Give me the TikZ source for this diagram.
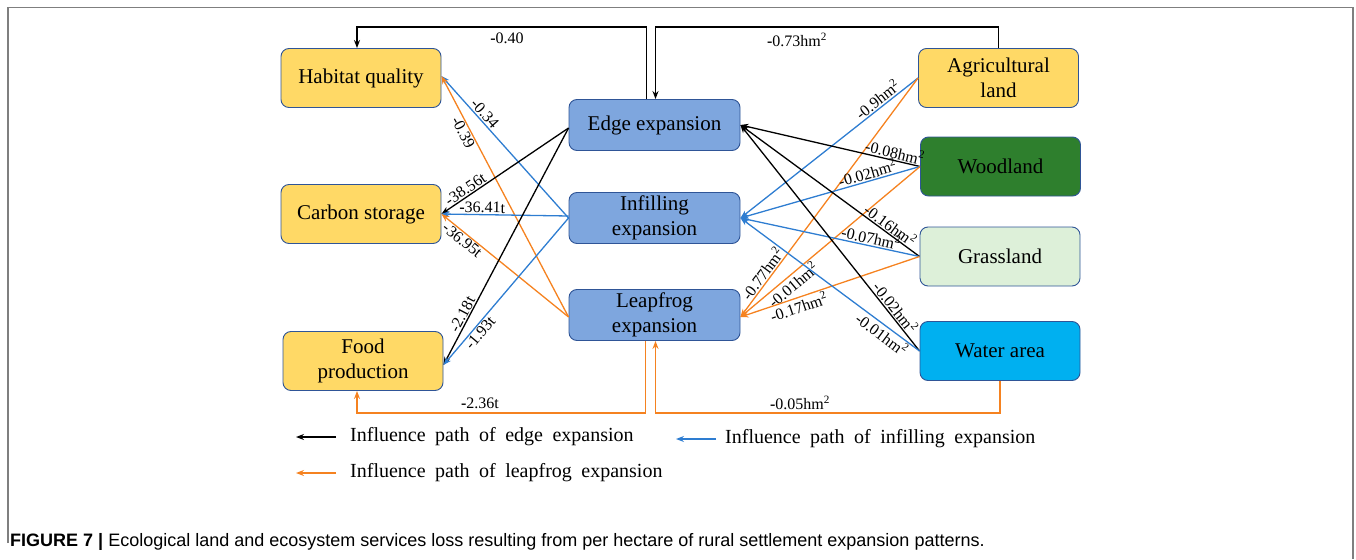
\documentclass[tikz,border=0pt]{standalone}
\usepackage{fontspec}
\setmainfont{Liberation Serif}
\newfontfamily\capfont{Liberation Sans}
\newfontfamily\legfont[WordSpace=1.9]{Liberation Serif}
\usetikzlibrary{arrows.meta,calc}
\definecolor{yel}{HTML}{FFD966}
\definecolor{bbox}{HTML}{7EA6DE}
\definecolor{wood}{HTML}{2E7F2D}
\definecolor{grass}{HTML}{DDF0D9}
\definecolor{water}{HTML}{00B0F0}
\definecolor{bord}{HTML}{2F5597}
\definecolor{lblue}{HTML}{2E7DD1}
\definecolor{lorange}{HTML}{F58220}
\definecolor{frame}{HTML}{7F7F7F}
\tikzset{
  box/.style={draw=bord, line width=0.9pt, rounded corners=8pt, align=center,
    inner sep=0pt, font=\fontsize{21}{25}\selectfont},
  svc/.style={box, fill=yel, minimum width=160pt, minimum height=59pt},
  expn/.style={box, fill=bbox, minimum width=171pt, minimum height=51pt},
  land/.style={box, minimum width=160pt, minimum height=59pt},
  arr/.style={line width=1.3pt, -{Stealth[length=8pt,width=6pt]}},
  kb/.style={arr, black},
  ku/.style={arr, lblue},
  ko/.style={arr, lorange},
  lbl/.style={font=\fontsize{16}{16}\selectfont, inner sep=1pt, sloped, text=black},
  flat/.style={font=\fontsize{16}{16}\selectfont, inner sep=1pt, text=black},
  legtext/.style={font=\legfont\fontsize{20}{20}\selectfont, anchor=west, inner sep=0pt},
}
\begin{document}
\begin{tikzpicture}[x=1pt,y=-1pt]
\useasboundingbox (0,0) rectangle (1356,559);
% frame
\draw[frame, line width=1.5pt] (8,543) -- (8,7.5) -- (1353,7.5) -- (1353,559);

% nodes
\node[svc] (hab) at (361,78) {Habitat quality};
\node[svc] (car) at (361,214) {Carbon storage};
\node[svc] (food) at (363,361) {Food\\production};
\node[expn] (edge) at (654.5,125) {Edge expansion};
\node[expn] (inf) at (654.5,218) {Infilling\\expansion};
\node[expn] (leap) at (654.5,315) {Leapfrog\\expansion};
\node[land, fill=yel] (agri) at (998.5,78) {Agricultural\\land};
\node[land, fill=wood] (woodn) at (1000.5,166.5) {Woodland};
\node[land, fill=grass] (grassn) at (1000,256.5) {Grassland};
\node[land, fill=water] (wat) at (1000,351) {Water area};

\coordinate (toprow) at (0,27);
\coordinate (botrow) at (0,413);

% top connectors
\draw[kb] ([xshift=-8pt]edge.north) -- ([xshift=-8pt]edge.north |- toprow) -| ([xshift=-4pt]hab.north);
\node[flat] (l040) at (507,38) {\textbf{-}0.40};
\draw[kb] (agri.north) -- (agri.north |- toprow) -| ([xshift=1pt]edge.north);
\node[flat] (l073) at (797,40) {\textbf{-}0.73hm\textsuperscript{2}};

% bottom connectors
\draw[ko] ([xshift=-9pt]leap.south) -- ([xshift=-9pt]leap.south |- botrow) -| ([xshift=-6pt]food.south);
\node[flat] (l236) at (480,403) {\textbf{-}2.36t};
\draw[ko] (wat.south) -- (wat.south |- botrow) -| ([xshift=1pt]leap.south);
\node[flat] (l005) at (800,403) {\textbf{-}0.05hm\textsuperscript{2}};

% left side
\draw[ku] (inf.west) -- node[lbl, pos=0.7, above] {-0.34} ([yshift=2pt]hab.east);
\draw[ko] ([yshift=-2pt]leap.west) -- node[lbl, pos=0.78, below] {-0.39} ([yshift=2pt]hab.east);
\draw[kb] ([yshift=-3pt]edge.west) -- node[lbl, pos=0.78, above] {-38.56t} (car.east);
\draw[ku] ([yshift=2pt]inf.west) -- node[lbl, pos=0.68, above] {\textbf{-}36.41t} (car.east);
\draw[ko] ([yshift=-2pt]leap.west) -- node[lbl, pos=0.8, below] {-36.95t} (car.east);
\draw[kb] ([yshift=-3pt]edge.west) -- node[lbl, pos=0.8, above] {-2.18t} ([yshift=-4pt]food.east);
\draw[ku] (inf.west) -- node[lbl, pos=0.75, below] {-1.93t} ([yshift=-4pt]food.east);

% right side
\draw[ku] (agri.west) -- node[lbl, pos=0.2, above] {-0.9hm\textsuperscript{2}} (inf.east);
\draw[ko] (agri.west) -- node[lbl, pos=0.84, above] {-0.77hm\textsuperscript{2}} ([yshift=-2pt]leap.east);
\draw[kb] (woodn.west) -- node[lbl, pos=0.15, above] {-0.08hm\textsuperscript{2}} (edge.east);
\draw[ku] (woodn.west) -- node[lbl, pos=0.28, above] {-0.02hm\textsuperscript{2}} (inf.east);
\draw[ko] (woodn.west) -- node[lbl, pos=0.74, below] {-0.01hm\textsuperscript{2}} ([yshift=-2pt]leap.east);
\draw[kb] (grassn.west) -- node[lbl, pos=0.19, above] {-0.16hm\textsuperscript{2}} (edge.east);
\draw[ku] (grassn.west) -- node[lbl, pos=0.28, above] {-0.07hm\textsuperscript{2}} (inf.east);
\draw[ko] (grassn.west) -- node[lbl, pos=0.69, below] {-0.17hm\textsuperscript{2}} ([yshift=-2pt]leap.east);
\draw[kb] (wat.west) -- node[lbl, pos=0.17, above] {-0.02hm\textsuperscript{2}} (edge.east);
\draw[ku] (wat.west) -- node[lbl, pos=0.18, below] {-0.01hm\textsuperscript{2}} (inf.east);

% legend
\coordinate (lg1s) at (336,437); \coordinate (lg1e) at (296,437);
\coordinate (lg2s) at (716,439); \coordinate (lg2e) at (676,439);
\coordinate (lg3s) at (336,473); \coordinate (lg3e) at (296,473);
\draw[kb] (lg1s) -- (lg1e);
\draw[ku] (lg2s) -- (lg2e);
\draw[ko] (lg3s) -- (lg3e);
\node[legtext] (t1) at (350,437) {Influence path of edge expansion};
\node[legtext] (t2) at (725,439) {Influence path of infilling expansion};
\node[legtext] (t3) at (350,473) {Influence path of leapfrog expansion};

% caption
\node[anchor=west, inner sep=0pt, font=\capfont\fontsize{18}{18}\selectfont] (cap) at (10,542)
  {\textbf{FIGURE 7 |} Ecological land and ecosystem services loss resulting from per hectare of rural settlement expansion patterns.};
\end{tikzpicture}
\end{document}
